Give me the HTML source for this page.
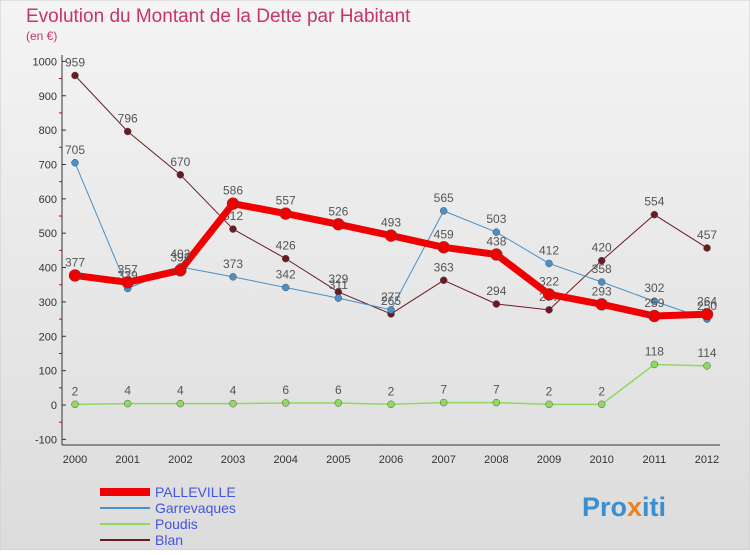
<!DOCTYPE html>
<html><head><meta charset="utf-8"><style>
body{margin:0;width:750px;height:550px;overflow:hidden;font-family:"Liberation Sans",sans-serif}
</style></head><body>
<svg id="c" width="750" height="550" xmlns="http://www.w3.org/2000/svg">
<defs><linearGradient id="bg" x1="0" y1="0" x2="0" y2="1"><stop offset="0" stop-color="#f4f4f4"/><stop offset="1" stop-color="#dcdcdc"/></linearGradient></defs>
<rect width="750" height="550" fill="url(#bg)" stroke="#ccc"/>
<text x="26" y="22" font-size="19" fill="#c8336b">Evolution du Montant de la Dette par Habitant</text>
<text x="26" y="40" font-size="12" fill="#c8336b">(en €)</text>
<g id="g"></g>
<text x="582" y="516" font-size="27" font-weight="bold" fill="#3a8fd0">Pro<tspan fill="#f08020">x</tspan><tspan fill="#3a8fd0">iti</tspan></text>
</svg>
<script>
const years=[2000,2001,2002,2003,2004,2005,2006,2007,2008,2009,2010,2011,2012];
const yTicks=[-100,0,100,200,300,400,500,600,700,800,900,1000];
const palleville=[377,357,392,586,557,526,493,459,438,322,293,259,264];
const garrevaques=[705,339,402,373,342,311,277,565,503,412,358,302,250];
const poudis=[2,4,4,4,6,6,2,7,7,2,2,118,114];
const blan=[959,796,670,512,426,329,265,363,294,277,420,554,457];
const NS="http://www.w3.org/2000/svg";
const g=document.getElementById('g');
const X=i=>75+i*52.67;
const Y=v=>405-v*0.3436;
function mk(t,a,p){const e=document.createElementNS(NS,t);for(const k in a)e.setAttribute(k,a[k]);(p||g).appendChild(e);return e;}
yTicks.forEach((v,k)=>{
 const t=mk('text',{x:57,y:Y(v)+4,'font-size':11,fill:'#333','text-anchor':'end'});t.textContent=v;
 
 
 const l=mk('line',{x1:62,x2:66,y1:Y(v),y2:Y(v),stroke:'#333'});
 
 
 if(k<yTicks.length-1){
 const m=mk('line',{x1:59,x2:62,y1:Y(v+50),y2:Y(v+50),stroke:'#e00'});
 
 }
});
let ax=mk('line',{x1:62,x2:62,y1:55,y2:445,stroke:'#333'});


ax=mk('line',{x1:62,x2:720,y1:445,y2:445,stroke:'#333'});


years.forEach((y,i)=>{
 const t=mk('text',{x:X(i),y:463,'font-size':11,fill:'#333','text-anchor':'middle'});t.textContent=y;
 
 
});
const series=[
 {n:'blan',d:blan,c:'#6b1a24',w:1,r:3.5},
 {n:'poudis',d:poudis,c:'#90d860',w:1.5,r:3.5},
 {n:'garrevaques',d:garrevaques,c:'#4a90c8',w:1,r:3.5},
 {n:'palleville',d:palleville,c:'#f00000',w:7,r:6}];
series.forEach(s=>{
 const p=mk('polyline',{points:s.d.map((v,i)=>X(i)+','+Y(v)).join(' '),fill:'none',stroke:s.c,'stroke-width':s.w,'stroke-linejoin':'round'});
 
 
 s.d.forEach((v,i)=>{
  const c=mk('circle',{cx:X(i),cy:Y(v),r:s.r,fill:s.c,stroke:'#555','stroke-width':0.5});
  
  
  const t=mk('text',{x:X(i),y:Y(v)-9,'font-size':12,fill:'#555','text-anchor':'middle'});t.textContent=v;
  
  
 });
});
const leg=[['PALLEVILLE','#f00000',8],['Garrevaques','#4a90c8',2],['Poudis','#90d860',2],['Blan','#6b1a24',2]];
leg.forEach((l,i)=>{
 const y=492+i*16;
 const ln=mk('line',{x1:100,x2:150,y1:y,y2:y,stroke:l[1],'stroke-width':l[2]});
 
 
 const t=mk('text',{x:155,y:y+5,'font-size':14,fill:'#4455dd'});t.textContent=l[0];
 
 
});
</script>
</body></html>
